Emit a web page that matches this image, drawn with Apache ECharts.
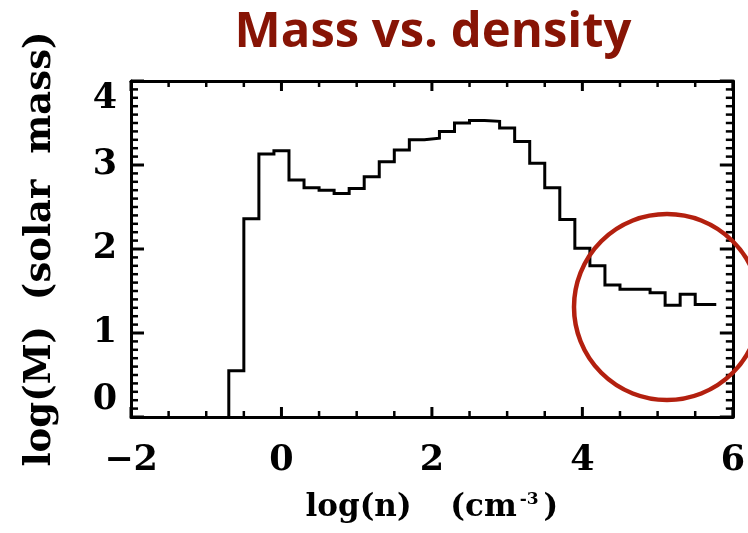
<!DOCTYPE html>
<html>
<head>
<meta charset="utf-8">
<script src="https://cdn.jsdelivr.net/npm/echarts@6/dist/echarts.min.js"></script>
<style>
  html, body { margin: 0; padding: 0; background: #ffffff; }
  #chart { width: 748px; height: 533px; }
</style>
</head>
<body>
<div id="chart"></div>
<script>
// Left edges of the density bins, log(n) in cm^-3
const binEdges = [-0.7, -0.5, -0.3, -0.1, 0.1, 0.3, 0.5, 0.7, 0.9, 1.1, 1.3, 1.5, 1.7, 1.9, 2.1, 2.3,
                  2.5, 2.7, 2.9, 3.1, 3.3, 3.5, 3.7, 3.9, 4.1, 4.3, 4.5, 4.7, 4.9, 5.1, 5.3, 5.5];
// Right edge of the last bin
const lastEdge = 5.78;
// log(M) in solar masses contained in each bin
const logMass = [0.55, 2.36, 3.13, 3.17, 2.82, 2.73, 2.70, 2.66, 2.72, 2.86, 3.04, 3.18, 3.30, 3.32, 3.40, 3.50,
                 3.53, 3.52, 3.44, 3.28, 3.02, 2.73, 2.35, 2.01, 1.80, 1.57, 1.52, 1.52, 1.48, 1.33, 1.46, 1.34];

const xTicks = [-2, 0, 2, 4, 6];
const yTicks = [0, 1, 2, 3, 4];
const xMinorPerMajor = 4;
const yMinorPerMajor = 10;

const titleText = 'Mass vs. density';
const xName = 'log(n)';
const xUnit = '(cm';
const xUnitExp = '-3';
const yName = 'log(M)  (solar  mass)';

// Step outline: start on the baseline, then one point per bin, closing at the last edge
const stepPoints = [[binEdges[0], 0]];
binEdges.forEach((e, i) => stepPoints.push([e, logMass[i]]));
stepPoints.push([lastEdge, logMass[logMass.length - 1]]);

const serif = '"DejaVu Serif", "Liberation Serif", serif';
const minus = v => (v < 0 ? '\u2212' + (-v) : String(v));

const xMin = xTicks[0], xMax = xTicks[xTicks.length - 1];
const yMin = yTicks[0], yMax = yTicks[yTicks.length - 1];
const xStep = xTicks[1] - xTicks[0];
const yStep = yTicks[1] - yTicks[0];

// Tick positions along each axis: [value, 1 for major / 0 for minor]
function tickList(ticks, perMajor) {
  const out = [];
  const step = (ticks[1] - ticks[0]) / perMajor;
  for (let i = 0; i < ticks.length; i++) {
    out.push([ticks[i], 1]);
    if (i < ticks.length - 1) {
      for (let k = 1; k < perMajor; k++) out.push([+(ticks[i] + k * step).toFixed(6), 0]);
    }
  }
  return out;
}
const xTickMarks = tickList(xTicks, xMinorPerMajor);
const yTickMarks = tickList(yTicks, yMinorPerMajor);

// Inward tick marks on both opposite sides of the frame
function xTickRender(params, api) {
  const v = api.value(0);
  const major = api.value(1) === 1;
  const len = major ? 10 : 6;
  const lw = major ? 3 : 2.5;
  const b = api.coord([v, yMin]);
  const t = api.coord([v, yMax]);
  return {
    type: 'group',
    children: [
      { type: 'line', shape: { x1: b[0], y1: b[1], x2: b[0], y2: b[1] - len }, style: { stroke: '#000', lineWidth: lw } },
      { type: 'line', shape: { x1: t[0], y1: t[1], x2: t[0], y2: t[1] + len }, style: { stroke: '#000', lineWidth: lw } }
    ]
  };
}
function yTickRender(params, api) {
  const v = api.value(0);
  const major = api.value(1) === 1;
  const len = major ? 13 : 7;
  const lw = major ? 3 : 2.5;
  const l = api.coord([xMin, v]);
  const r = api.coord([xMax, v]);
  return {
    type: 'group',
    children: [
      { type: 'line', shape: { x1: l[0], y1: l[1], x2: l[0] + len, y2: l[1] }, style: { stroke: '#000', lineWidth: lw } },
      { type: 'line', shape: { x1: r[0], y1: r[1], x2: r[0] - len, y2: r[1] }, style: { stroke: '#000', lineWidth: lw } }
    ]
  };
}

// x-axis title as rich text, with a raised exponent
const xTitle = '{n|' + xName + '}{g| }{n|' + xUnit + '}{s|' + xUnitExp + '}{n|)}';
const nameFont = { fontFamily: serif, fontWeight: 'bold', fontSize: 31, color: '#000' };

const frameLine = { show: true, onZero: false, lineStyle: { color: '#000', width: 3 } };

function xAxisDef(pos, labelled) {
  return {
    type: 'value', position: pos, min: xMin, max: xMax, interval: xStep,
    axisLine: frameLine,
    axisTick: { show: false },
    minorTick: { show: false },
    splitLine: { show: false },
    axisLabel: labelled ? {
      margin: 26, formatter: minus,
      fontFamily: serif, fontWeight: 'bold', fontSize: 35, color: '#000'
    } : { show: false }
  };
}
function yAxisDef(pos, labelled) {
  return {
    type: 'value', position: pos, min: yMin, max: yMax, interval: yStep,
    axisLine: frameLine,
    axisTick: { show: false },
    minorTick: { show: false },
    splitLine: { show: false },
    axisLabel: labelled ? {
      margin: 14,
      verticalAlignMinLabel: 'bottom',
      verticalAlignMaxLabel: 'top',
      fontFamily: serif, fontWeight: 'bold', fontSize: 35, color: '#000'
    } : { show: false }
  };
}

const xBottom = Object.assign(xAxisDef('bottom', true), {
  name: xTitle,
  nameLocation: 'middle',
  nameGap: 74,
  nameTextStyle: {
    rich: {
      n: nameFont,
      g: Object.assign({}, nameFont, { padding: [0, 14, 0, 14] }),
      s: { fontFamily: serif, fontWeight: 'bold', fontSize: 17, color: '#000', verticalAlign: 'top', padding: [0, 5, 16, 3] }
    }
  }
});
const yLeft = Object.assign(yAxisDef('left', true), {
  name: yName,
  nameLocation: 'middle',
  nameGap: 72,
  nameTextStyle: { fontFamily: serif, fontWeight: 'bold', fontSize: 37, color: '#000' }
});

const chart = echarts.init(document.getElementById('chart'), null, { renderer: 'canvas' });

chart.setOption({
  animation: false,
  backgroundColor: '#ffffff',
  title: {
    text: titleText,
    left: 428,
    top: 4,
    textAlign: 'center',
    textStyle: {
      fontFamily: '"Open Sans", "Noto Sans", sans-serif',
      fontWeight: 'bold',
      fontSize: 49,
      color: '#871405'
    }
  },
  grid: { left: 131, right: 6, top: 81, bottom: 116, containLabel: false },
  xAxis: [xBottom, xAxisDef('top', false)],
  yAxis: [yLeft, yAxisDef('right', false)],
  series: [
    {
      type: 'custom',
      coordinateSystem: 'cartesian2d',
      xAxisIndex: 0,
      yAxisIndex: 0,
      silent: true,
      clip: false,
      encode: { x: 0 },
      data: xTickMarks,
      renderItem: xTickRender,
      z: 3
    },
    {
      type: 'custom',
      coordinateSystem: 'cartesian2d',
      xAxisIndex: 0,
      yAxisIndex: 0,
      silent: true,
      clip: false,
      encode: { y: 0 },
      data: yTickMarks,
      renderItem: yTickRender,
      z: 3
    },
    {
      type: 'line',
      xAxisIndex: 0,
      yAxisIndex: 0,
      step: 'end',
      data: stepPoints,
      showSymbol: false,
      symbol: 'none',
      lineStyle: { color: '#000', width: 3, join: 'miter' },
      clip: true
    }
  ],
  graphic: [
    {
      // highlight ring around the high-density tail
      type: 'circle',
      shape: { cx: 667, cy: 307, r: 93 },
      style: { fill: 'none', stroke: '#B3200F', lineWidth: 4.5 },
      z: 100
    }
  ]
});
</script>
</body>
</html>
